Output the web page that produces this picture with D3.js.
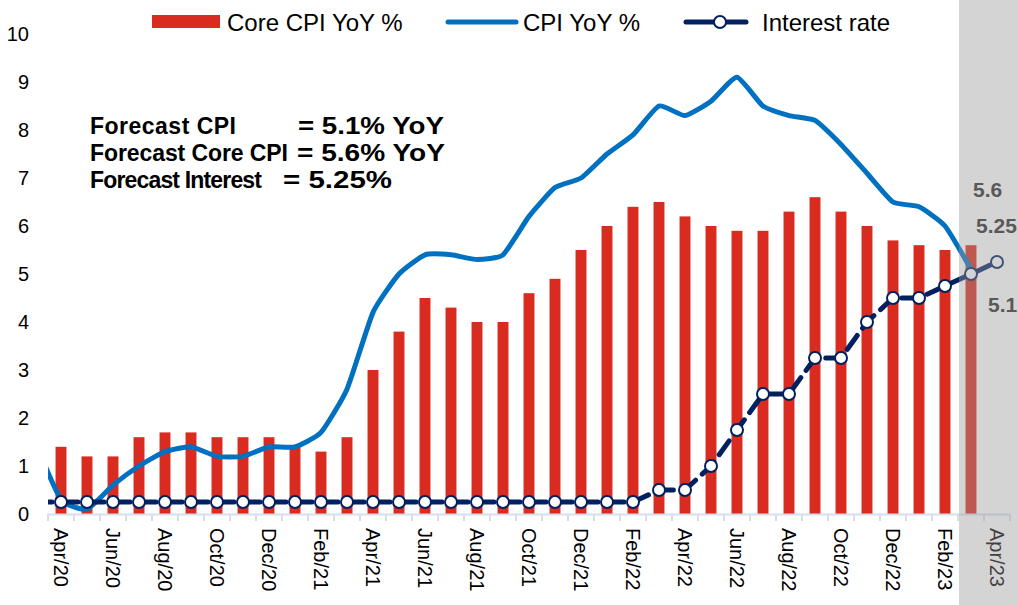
<!DOCTYPE html>
<html lang="en">
<head>
    <meta charset="UTF-8">
    <script src="https://d3js.org/d3.v7.min.js"></script>
    <title>CPI, Core CPI and Interest rate</title>
    <style>
        body { margin: 0; background: #fff; font-family: "Liberation Sans", Arial, sans-serif; }
        svg { display: block; }
    </style>
</head>
<body>
    <svg id="chart" width="1018" height="605"></svg>

    <script>
        // months on the x axis (Apr/20 .. Apr/23)
        const months = ["Apr/20","May/20","Jun/20","Jul/20","Aug/20","Sep/20","Oct/20","Nov/20","Dec/20",
            "Jan/21","Feb/21","Mar/21","Apr/21","May/21","Jun/21","Jul/21","Aug/21","Sep/21","Oct/21","Nov/21","Dec/21",
            "Jan/22","Feb/22","Mar/22","Apr/22","May/22","Jun/22","Jul/22","Aug/22","Sep/22","Oct/22","Nov/22","Dec/22",
            "Jan/23","Feb/23","Mar/23","Apr/23"];

        const coreCpi = [1.4,1.2,1.2,1.6,1.7,1.7,1.6,1.6,1.6,1.4,1.3,1.6,3.0,3.8,4.5,4.3,4.0,4.0,4.6,4.9,5.5,
            6.0,6.4,6.5,6.2,6.0,5.9,5.9,6.3,6.6,6.3,6.0,5.7,5.6,5.5,5.6,null];

        const cpi = [0.3,0.1,0.6,1.0,1.3,1.4,1.2,1.2,1.4,1.4,1.7,2.6,4.2,5.0,5.4,5.4,5.3,5.4,6.2,6.8,7.0,
            7.5,7.9,8.5,8.3,8.6,9.1,8.5,8.3,8.2,7.7,7.1,6.5,6.4,6.0,5.1,null];

        const rate = [0.25,0.25,0.25,0.25,0.25,0.25,0.25,0.25,0.25,0.25,0.25,0.25,0.25,0.25,0.25,0.25,0.25,0.25,
            0.25,0.25,0.25,0.25,0.25,0.5,0.5,1.0,1.75,2.5,2.5,3.25,3.25,4.0,4.5,4.5,4.75,5.0,5.25];

        // values for Mar/20, only the tail of the lines shows at the left edge
        const cpiPrev = 1.5;
        const ratePrev = 0.25;

        const yTicks = [0,1,2,3,4,5,6,7,8,9,10];
        const forecastFrom = "Mar/23";

        const notes = [
            ["Forecast CPI", "= 5.1% YoY"],
            ["Forecast Core CPI", "= 5.6% YoY"],
            ["Forecast Interest", "= 5.25%"]
        ];
        const forecastLabels = ["5.6", "5.25", "5.1"];

        const RED = "#d92b1f", BLUE = "#0070c0", NAVY = "#002060";

        const svg = d3.select("#chart");
        const W = 1018, H = 605;

        const x = d3.scaleBand().domain(months).range([48, 1010])
            .paddingInner(0.58).paddingOuter(0.29);
        const step = x.step();
        const cx = m => x(m) + x.bandwidth() / 2;
        const slotStart = m => cx(m) - step / 2;
        const y = d3.scaleLinear().domain([0, 10]).range([514, 34]);

        svg.append("defs").append("clipPath").attr("id", "plot")
            .append("rect").attr("x", 48).attr("y", 0).attr("width", W - 48).attr("height", H);

        // y tick labels
        svg.append("g").selectAll("text").data(yTicks).enter().append("text")
            .attr("x", 29).attr("y", d => y(d) + 7)
            .attr("text-anchor", "end")
            .attr("font-size", 20).attr("fill", "#000")
            .text(d => d);

        // bars
        svg.append("g").selectAll("rect")
            .data(months.map((m, i) => ({ m, v: coreCpi[i] })).filter(d => d.v != null))
            .enter().append("rect")
            .attr("x", d => x(d.m))
            .attr("width", x.bandwidth())
            .attr("y", d => y(d.v))
            .attr("height", d => y(0) - y(d.v))
            .attr("fill", RED);

        // x axis line + ticks at month boundaries
        const axisG = svg.append("g");
        axisG.append("line")
            .attr("x1", x.range()[0]).attr("x2", x.range()[1])
            .attr("y1", y(0) + 0.5).attr("y2", y(0) + 0.5)
            .attr("stroke", "#d6def0").attr("stroke-width", 2);
        axisG.selectAll("line.tk").data(d3.range(months.length + 1)).enter().append("line")
            .attr("class", "tk")
            .attr("x1", i => x.range()[0] + i * step).attr("x2", i => x.range()[0] + i * step)
            .attr("y1", y(0)).attr("y2", y(0) + 7)
            .attr("stroke", "#d6def0").attr("stroke-width", 2);

        axisG.selectAll("text").data(months.filter((m, i) => i % 2 === 0)).enter().append("text")
            .attr("transform", m => `translate(${cx(m) - 7},${528}) rotate(90)`)
            .attr("font-size", 20).attr("fill", "#000")
            .text(m => m);

        // CPI line
        const cpiPts = [[cx(months[0]) - step, cpiPrev]]
            .concat(months.map((m, i) => [cx(m), cpi[i]]).filter(d => d[1] != null));
        svg.append("path")
            .attr("clip-path", "url(#plot)")
            .attr("d", d3.line().x(d => d[0]).y(d => y(d[1])).curve(d3.curveCardinal.tension(0.5))(cpiPts))
            .attr("fill", "none").attr("stroke", BLUE).attr("stroke-width", 5)
            .attr("stroke-linejoin", "round");

        // interest rate line
        const ratePts = [[cx(months[0]) - step, ratePrev]]
            .concat(months.map((m, i) => [cx(m), rate[i]]));
        svg.append("path")
            .attr("clip-path", "url(#plot)")
            .attr("d", d3.line().x(d => d[0]).y(d => y(d[1]))(ratePts))
            .attr("fill", "none").attr("stroke", NAVY).attr("stroke-width", 5)
            .attr("stroke-linecap", "round")
            .attr("stroke-dasharray", "17,9");
        svg.append("g").selectAll("circle").data(ratePts.slice(1)).enter().append("circle")
            .attr("cx", d => d[0]).attr("cy", d => y(d[1])).attr("r", 6)
            .attr("fill", "#fff").attr("stroke", NAVY).attr("stroke-width", 2);

        // forecast shading on top
        svg.append("rect")
            .attr("x", slotStart(forecastFrom) + 1).attr("y", 0)
            .attr("width", W - slotStart(forecastFrom)).attr("height", H)
            .attr("fill", "#9a9a9a").attr("opacity", 0.425);

        svg.append("g").selectAll("text").data(forecastLabels).enter().append("text")
            .attr("x", (d, i) => [973, 976, 988][i])
            .attr("y", (d, i) => [197, 233, 312][i])
            .attr("font-size", 21).attr("font-weight", "bold").attr("fill", "#595959")
            .text(d => d);

        // notes
        const leftW = [146, 198, 172], rightX = [298, 297, 283], rightW = [146, 148, 109];
        const nG = svg.append("g").attr("font-weight", "bold").attr("fill", "#000");
        notes.forEach((n, i) => {
            nG.append("text").attr("x", 90).attr("y", 134 + i * 27).attr("font-size", 23)
                .attr("textLength", leftW[i]).attr("lengthAdjust", "spacing").text(n[0]);
            nG.append("text").attr("x", rightX[i]).attr("y", 134 + i * 27).attr("font-size", 24)
                .attr("textLength", rightW[i]).attr("lengthAdjust", "spacingAndGlyphs").text(n[1]);
        });

        // legend
        const lg = svg.append("g").attr("font-size", 24).attr("fill", "#000");
        lg.append("rect").attr("x", 152).attr("y", 15).attr("width", 68).attr("height", 13).attr("fill", RED);
        lg.append("text").attr("x", 227).attr("y", 31).text("Core CPI YoY %");
        lg.append("line").attr("x1", 448).attr("x2", 516).attr("y1", 22).attr("y2", 22)
            .attr("stroke", BLUE).attr("stroke-width", 5).attr("stroke-linecap", "round");
        lg.append("text").attr("x", 523).attr("y", 31).text("CPI YoY %");
        lg.append("line").attr("x1", 686).attr("x2", 746).attr("y1", 22).attr("y2", 22)
            .attr("stroke", NAVY).attr("stroke-width", 5).attr("stroke-linecap", "round");
        lg.append("circle").attr("cx", 720).attr("cy", 22).attr("r", 6)
            .attr("fill", "#fff").attr("stroke", NAVY).attr("stroke-width", 2);
        lg.append("text").attr("x", 762).attr("y", 31).text("Interest rate");
    </script>
</body>
</html>
